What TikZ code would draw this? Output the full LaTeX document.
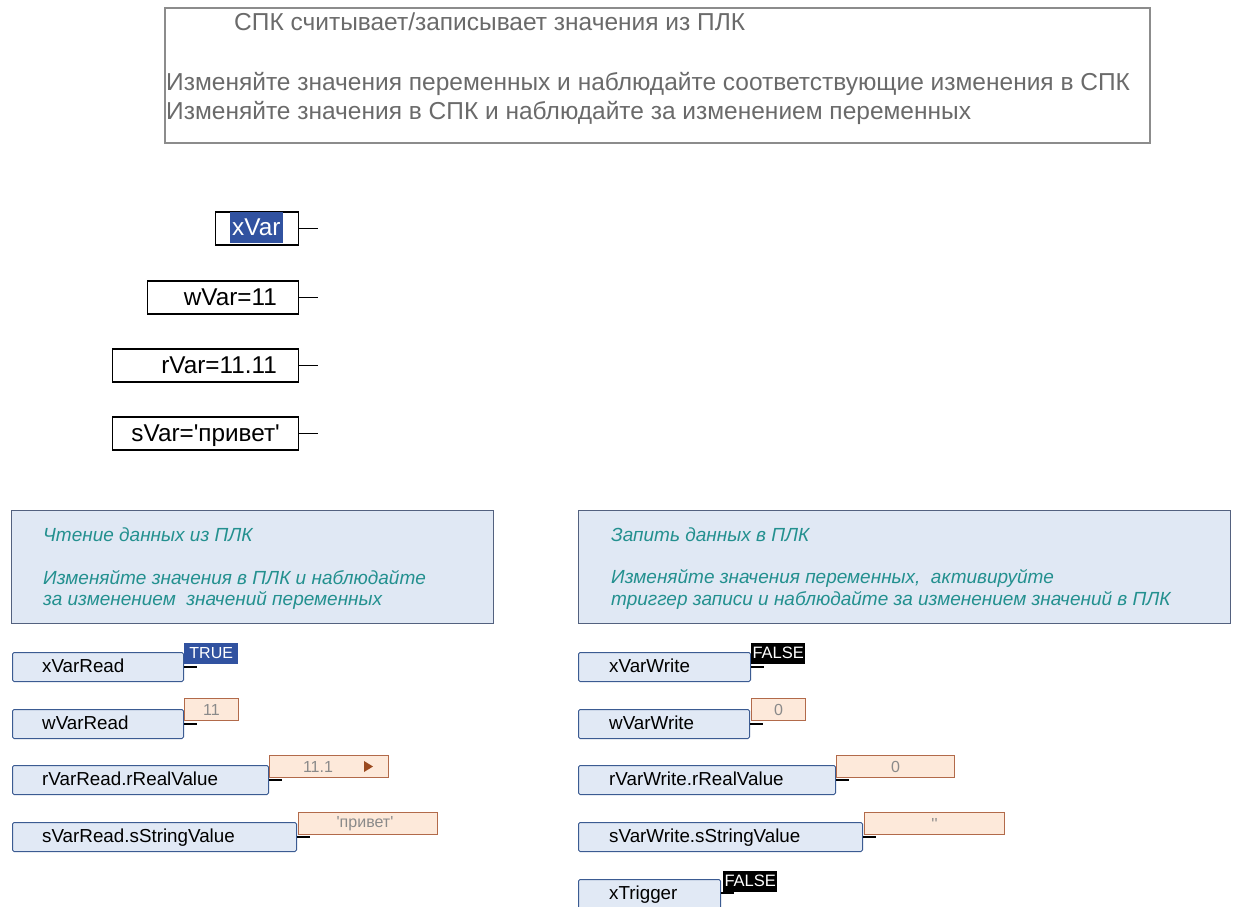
\documentclass[tikz,border=0pt]{standalone}
\usepackage{fontspec}
\setmainfont{Liberation Sans}[Ligatures=TeXOff]
\usetikzlibrary{calc}
\definecolor{topborder}{HTML}{8C8C8C}
\definecolor{toptext}{HTML}{6A6A6A}
\definecolor{hlblue}{HTML}{3152A0}
\definecolor{blkfill}{HTML}{E1E9F5}
\definecolor{blkborder}{HTML}{3B5B92}
\definecolor{cmtfill}{HTML}{E0E8F4}
\definecolor{cmtborder}{HTML}{53617F}
\definecolor{cmttext}{HTML}{23908F}
\definecolor{valfill}{HTML}{FDE9DA}
\definecolor{valborder}{HTML}{B26A4A}
\definecolor{valtext}{HTML}{8A8A8A}
\definecolor{tri}{HTML}{9A4A20}
\tikzset{
  topbox/.style={draw=topborder, line width=1.6pt, anchor=north west, inner sep=0pt},
  toptxt/.style={anchor=west, inner sep=0pt, text=toptext, font=\fontsize{24.5}{26}\selectfont},
  varbox/.style={draw=black, line width=1.5pt, anchor=north east, inner sep=0pt, minimum height=33pt},
  vartxt/.style={anchor=base east, inner sep=0pt, font=\fontsize{24.3}{26}\selectfont},
  stub/.style={line width=1.2pt, black},
  cmtbox/.style={draw=cmtborder, fill=cmtfill, line width=1pt, anchor=north west, inner sep=0pt, minimum height=113pt},
  cmttxt/.style={anchor=west, inner sep=0pt, text=cmttext, font=\fontsize{19}{21}\selectfont\itshape},
  blk/.style={draw=blkborder, fill=blkfill, line width=1pt, rounded corners=1.5pt, anchor=north west, inner sep=0pt, minimum height=29pt},
  blktxt/.style={anchor=base west, inner sep=0pt, font=\fontsize{18.8}{20}\selectfont},
  valbox/.style={draw=valborder, fill=valfill, line width=1pt, anchor=south west, inner sep=0pt, minimum height=22pt},
  valtxt/.style={inner sep=0pt, text=valtext, font=\fontsize{16}{18}\selectfont},
  truebox/.style={fill=hlblue, text=white, anchor=south west, inner sep=0pt, minimum height=21pt, minimum width=54pt, font=\fontsize{16}{18}\selectfont},
  falsebox/.style={fill=black, text=white, anchor=south west, inner sep=0pt, minimum height=21pt, minimum width=54pt, font=\fontsize{16.5}{18}\selectfont},
}
\begin{document}
\begin{tikzpicture}[x=1pt,y=-1pt]
\useasboundingbox (0,0) rectangle (1235,906);

% top note
\node[topbox, minimum width=985pt, minimum height=135pt] (note) at (164,7) {};
\node[toptxt] (n1) at (234,22) {СПК считывает/записывает значения из ПЛК};
\node[toptxt] (n2) at (166,84) {Изменяйте значения переменных и наблюдайте соответствующие изменения в СПК};
\node[toptxt] (n3) at (166,113) {Изменяйте значения в СПК и наблюдайте за изменением переменных};

% variables
\node[varbox, minimum width=83pt] (xv) at (299,211) {};
\node[fill=hlblue, text=white, anchor=north east, inner sep=0pt, minimum width=53pt, minimum height=31pt, font=\fontsize{24.3}{26}\selectfont] (xvt) at (283,212) {xVar};
\coordinate (xvo) at ($(xv.east)+(19,0)$);
\draw[stub] (xv.east) -- (xvo);

\node[varbox, minimum width=151pt] (wv) at (299,280) {};
\node[vartxt] (wvt) at ($(wv.north east)+(-22,25)$) {wVar=11};
\coordinate (wvo) at ($(wv.east)+(19,0)$);
\draw[stub] (wv.east) -- (wvo);

\node[varbox, minimum width=186pt] (rv) at (299,348) {};
\node[vartxt] (rvt) at ($(rv.north east)+(-22,25)$) {rVar=11.11};
\coordinate (rvo) at ($(rv.east)+(19,0)$);
\draw[stub] (rv.east) -- (rvo);

\node[varbox, minimum width=186pt] (sv) at (299,416) {};
\node[vartxt] (svt) at ($(sv.north east)+(-19,25)$) {sVar='привет'};
\coordinate (svo) at ($(sv.east)+(19,0)$);
\draw[stub] (sv.east) -- (svo);

% comment boxes
\node[cmtbox, minimum width=482pt] (cl) at (11,510) {};
\node[cmttxt] (cl1) at (43,535) {Чтение данных из ПЛК};
\node[cmttxt] (cl2) at (43,578) {Изменяйте значения в ПЛК и наблюдайте};
\node[cmttxt] (cl3) at (43,600) {за изменением\ \ значений переменных};

\node[cmtbox, minimum width=652pt] (cr) at (578,510) {};
\node[cmttxt] (cr1) at (611,535) {Запить данных в ПЛК};
\node[cmttxt] (cr2) at (611,578) {Изменяйте значения переменных,\ \ активируйте};
\node[cmttxt] (cr3) at (611,600) {триггер записи и наблюдайте за изменением значений в ПЛК};

% read blocks
\node[blk, minimum width=171pt] (xr) at (12,652) {};
\node[blktxt] (xrt) at ($(xr.north west)+(30,20)$) {xVarRead};
\coordinate (xro) at ($(xr.east)+(13,0)$);
\draw[stub] (xr.east) -- (xro);
\node[truebox] (xrv) at ($(xr.north east)+(0,12)$) {TRUE};

\node[blk, minimum width=171pt] (wr) at (12,709) {};
\node[blktxt] (wrt) at ($(wr.north west)+(30,20)$) {wVarRead};
\coordinate (wro) at ($(wr.east)+(13,0)$);
\draw[stub] (wr.east) -- (wro);
\node[valbox, minimum width=54pt] (wrv) at ($(wr.north east)+(0,12)$) {};
\node[valtxt] (wrvt) at (wrv.center) {11};

\node[blk, minimum width=256pt] (rr) at (12,765) {};
\node[blktxt] (rrt) at ($(rr.north west)+(30,20)$) {rVarRead.rRealValue};
\coordinate (rro) at ($(rr.east)+(13,0)$);
\draw[stub] (rr.east) -- (rro);
\node[valbox, minimum width=119pt] (rrv) at ($(rr.north east)+(0,13)$) {};
\node[valtxt] (rrvt) at ($(rrv.west)+(49,0)$) {11.1};
\fill[tri] ($(rrv.west)+(95,-5.5)$) -- ++(9,5.5) -- ++(-9,5.5) -- cycle;

\node[blk, minimum width=284pt] (sr) at (12,822) {};
\node[blktxt] (srt) at ($(sr.north west)+(30,20)$) {sVarRead.sStringValue};
\coordinate (sro) at ($(sr.east)+(13,0)$);
\draw[stub] (sr.east) -- (sro);
\node[valbox, minimum width=139pt] (srv) at ($(sr.north east)+(1,13)$) {};
\node[valtxt] (srvt) at ($(srv.center)+(-3,0)$) {'привет'};

% write blocks
\node[blk, minimum width=172pt] (xw) at (578,652) {};
\node[blktxt] (xwt) at ($(xw.north west)+(31,20)$) {xVarWrite};
\coordinate (xwo) at ($(xw.east)+(13,0)$);
\draw[stub] (xw.east) -- (xwo);
\node[falsebox] (xwv) at ($(xw.north east)+(0,12)$) {FALSE};

\node[blk, minimum width=171pt] (ww) at (578,709) {};
\node[blktxt] (wwt) at ($(ww.north west)+(31,20)$) {wVarWrite};
\coordinate (wwo) at ($(ww.east)+(13,0)$);
\draw[stub] (ww.east) -- (wwo);
\node[valbox, minimum width=54pt] (wwv) at ($(ww.north east)+(1,12)$) {};
\node[valtxt] (wwvt) at (wwv.center) {0};

\node[blk, minimum width=257pt] (rw) at (578,765) {};
\node[blktxt] (rwt) at ($(rw.north west)+(31,20)$) {rVarWrite.rRealValue};
\coordinate (rwo) at ($(rw.east)+(13,0)$);
\draw[stub] (rw.east) -- (rwo);
\node[valbox, minimum width=118pt] (rwv) at ($(rw.north east)+(0,13)$) {};
\node[valtxt] (rwvt) at (rwv.center) {0};

\node[blk, minimum width=284pt] (sw) at (578,822) {};
\node[blktxt] (swt) at ($(sw.north west)+(31,20)$) {sVarWrite.sStringValue};
\coordinate (swo) at ($(sw.east)+(13,0)$);
\draw[stub] (sw.east) -- (swo);
\node[valbox, minimum width=140pt] (swv) at ($(sw.north east)+(1,13)$) {};
\node[valtxt] (swvt) at (swv.center) {''};

\node[blk, minimum width=142pt, minimum height=40pt] (xt) at (578,879) {};
\node[blktxt] (xtt) at ($(xt.north west)+(31,20)$) {xTrigger};
\coordinate (xto) at ($(xt.north east)+(13,14)$);
\draw[stub] ($(xt.north east)+(0,14)$) -- (xto);
\node[falsebox] (xtv) at ($(xt.north east)+(2,13)$) {FALSE};
\end{tikzpicture}
\end{document}
